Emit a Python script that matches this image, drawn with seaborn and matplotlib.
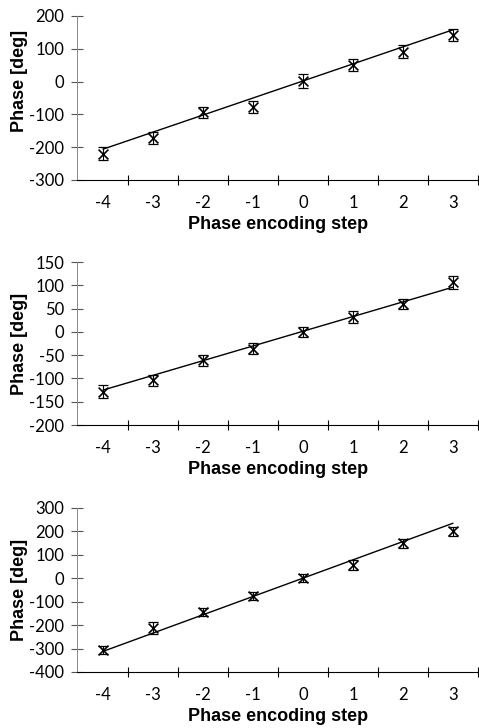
import numpy as np
import pandas as pd
import matplotlib
matplotlib.use("Agg")
import matplotlib.pyplot as plt
import seaborn as sns

sns.set_theme(style="ticks")
plt.rcParams['font.family'] = ['Lato', 'DejaVu Sans']
plt.rcParams['axes.unicode_minus'] = False
plt.rcParams['text.color'] = 'black'
plt.rcParams['axes.labelcolor'] = 'black'

steps = [-4, -3, -2, -1, 0, 1, 2, 3]

# Panel 1
p1_phase = [-220, -172, -94, -77, 2, 51, 91, 142]
p1_err = [20, 18, 18, 18, 22, 18, 20, 18]
p1_fit_x = [-4, 3]
p1_fit_y = [-206, 158]
p1_yticks = [-300, -200, -100, 0, 100, 200]

# Panel 2
p2_phase = [-129, -104, -61, -36, 0, 32, 60, 106]
p2_err = [14, 12, 12, 12, 11, 12, 11, 13]
p2_fit_x = [-4, 3]
p2_fit_y = [-125, 96]
p2_yticks = [-200, -150, -100, -50, 0, 50, 100, 150]

# Panel 3
p3_phase = [-307, -212, -145, -76, 2, 56, 149, 200]
p3_err = [18, 24, 18, 18, 18, 22, 18, 18]
p3_fit_x = [-4, 3]
p3_fit_y = [-312, 235]
p3_yticks = [-400, -300, -200, -100, 0, 100, 200, 300]

xlabel = "Phase encoding step"
ylabel = "Phase [deg]"

W, H = 479, 728
fig = plt.figure(figsize=(W / 100, H / 100), dpi=100)

panels = [
    (p1_phase, p1_err, p1_fit_x, p1_fit_y, p1_yticks, 16, 180, 0.607),
    (p2_phase, p2_err, p2_fit_x, p2_fit_y, p2_yticks, 262, 425, 0.5),
    (p3_phase, p3_err, p3_fit_x, p3_fit_y, p3_yticks, 508, 672, 0.5),
]

label_font = dict(family=['Liberation Sans', 'DejaVu Sans'], size=13, weight='bold', color='black')

for phase, err, fx, fy, yt, top, bot, ylab_pos in panels:
    ax = fig.add_axes([77 / W, 1 - bot / H, (W - 77) / W, (bot - top) / H])
    df = pd.DataFrame({"step": steps, "phase": phase, "err": err})
    fit = pd.DataFrame({"step": fx, "phase": fy})
    sns.lineplot(data=fit, x="step", y="phase", color="black", linewidth=1.0, ax=ax)
    ax.errorbar(df["step"], df["phase"], yerr=df["err"], fmt="none",
                ecolor="black", elinewidth=0.8, capsize=3.6, capthick=0.9)
    sns.scatterplot(data=df, x="step", y="phase", marker="x", color="black",
                    s=50, linewidth=1.2, ax=ax)
    ax.set_xlim(-4.52, 3.52)
    ax.set_ylim(yt[0], yt[-1])
    ax.set_yticks(yt)
    ax.set_xticks(steps)
    ax.set_xticks([s + 0.5 for s in steps], minor=True)
    ax.tick_params(axis="x", which="major", length=0, labelsize=12, pad=10.5, labelcolor="black")
    ax.tick_params(axis="x", which="minor", length=6.5, direction="inout", width=0.8, color="black")
    ax.tick_params(axis="y", which="major", length=9, direction="inout", width=0.8,
                   labelsize=12, pad=4.5, color="#555555", labelcolor="black")
    for s in ["top", "right"]:
        ax.spines[s].set_visible(False)
    ax.spines["left"].set_color("#888888")
    ax.spines["left"].set_linewidth(0.7)
    ax.spines["bottom"].set_color("black")
    ax.spines["bottom"].set_linewidth(0.8)
    ax.set_xlabel(xlabel, fontdict=label_font, labelpad=4)
    ax.set_ylabel(ylabel, fontdict=label_font, labelpad=1)
    ax.yaxis.label.set_y(ylab_pos)
    ax.patch.set_alpha(0)

fig.savefig("out.png", dpi=100)
